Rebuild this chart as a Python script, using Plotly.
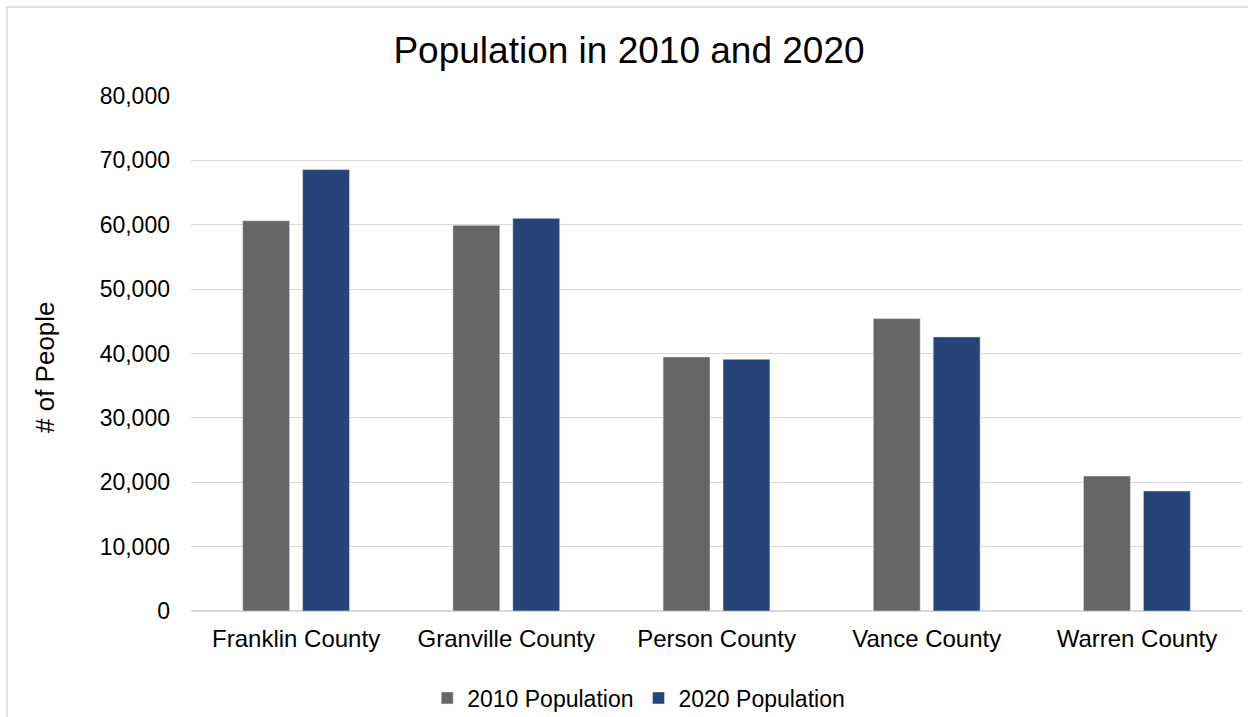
import plotly.graph_objects as go

counties = ["Franklin County", "Granville County", "Person County", "Vance County", "Warren County"]
pop_2010 = [60619, 59916, 39464, 45422, 20972]
pop_2020 = [68573, 60992, 39097, 42578, 18642]
tick_vals = [0, 10000, 20000, 30000, 40000, 50000, 60000, 70000, 80000]
tick_text = ["0", "10,000", "20,000", "30,000", "40,000", "50,000", "60,000", "70,000", "80,000"]

L, R, T, B = 191, 6, 96, 106
W, H = 1248, 717
pw, ph = W - L - R, H - T - B

def px_x(x):
    return (x - L) / pw

def px_y(y):
    return (H - B - y) / ph

fig = go.Figure()
fig.add_trace(go.Bar(name="2010 Population", x=counties, y=pop_2010, marker_color="#666666"))
fig.add_trace(go.Bar(name="2020 Population", x=counties, y=pop_2020, marker_color="#264478"))

fig.update_layout(
    width=W, height=H,
    margin=dict(l=L, r=R, t=T, b=B),
    paper_bgcolor="white", plot_bgcolor="white",
    font=dict(family="Liberation Sans, Arial", color="black", size=23),
    title=dict(text="Population in 2010 and 2020", x=629 / W, xref="container", xanchor="center",
               y=1 - 50 / H, yanchor="middle", font=dict(size=37)),
    barmode="group", bargap=0.43, bargroupgap=0.217,
    showlegend=True,
    legend=dict(orientation="h", x=0.426, xanchor="center", y=1 - 698 / H, yref="container",
                yanchor="middle", font=dict(size=23), itemwidth=30),
    shapes=[dict(type="rect", xref="paper", yref="paper",
                 x0=px_x(7), x1=px_x(1252), y0=px_y(722), y1=px_y(7),
                 line=dict(color="#d9d9d9", width=1.5), fillcolor="rgba(0,0,0,0)", layer="below")],
    annotations=[dict(text="# of People", textangle=-90, xref="paper", yref="paper",
                      x=px_x(45), y=px_y(367), xanchor="center", yanchor="middle",
                      showarrow=False, font=dict(size=26))],
)
fig.update_xaxes(showgrid=False, showline=False, ticks="", tickfont=dict(size=24),
                 ticklabelstandoff=11)
fig.update_yaxes(range=[0, 80000], tickvals=tick_vals, ticktext=tick_text,
                 showgrid=True, gridcolor="#d9d9d9", gridwidth=1,
                 zeroline=True, zerolinecolor="#d9d9d9", zerolinewidth=1.5,
                 showline=False, ticks="", ticklabelstandoff=20, tickfont=dict(size=23))

fig.write_html("out.html")
